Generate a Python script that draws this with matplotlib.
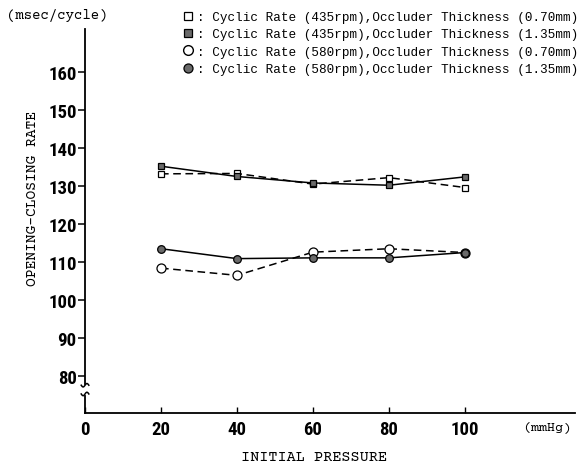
import matplotlib
matplotlib.use("Agg")
import matplotlib.pyplot as plt
import numpy as np
from matplotlib.lines import Line2D

# initial pressure (mmHg)
pressure = [20, 40, 60, 80, 100]

# opening-closing rate (msec/cycle)
rate_435_070 = [133.2, 133.3, 130.5, 132.2, 129.6]
rate_435_135 = [135.2, 132.5, 130.8, 130.2, 132.4]
rate_580_070 = [108.4, 106.5, 112.6, 113.5, 112.5]
rate_580_135 = [113.5, 110.9, 111.1, 111.1, 112.5]

labels = [
    ": Cyclic Rate (435rpm),Occluder Thickness (0.70mm)",
    ": Cyclic Rate (435rpm),Occluder Thickness (1.35mm)",
    ": Cyclic Rate (580rpm),Occluder Thickness (0.70mm)",
    ": Cyclic Rate (580rpm),Occluder Thickness (1.35mm)",
]

yticks = [80, 90, 100, 110, 120, 130, 140, 150, 160]
xticks = [0, 20, 40, 60, 80, 100]

narrow_bold = ["Roboto Condensed", "Archivo Narrow", "DejaVu Sans"]
legend_font = ["Liberation Mono", "DejaVu Sans Mono"]
mono = ["Courier Prime", "Liberation Mono", "DejaVu Sans Mono"]
gray = "#6a6a6a"

fig = plt.figure(figsize=(5.78, 4.64), dpi=100)
ax = fig.add_axes([0.1471, 0.1078, 0.8478, 0.8276])

dash = (0, (5, 3))
ax.plot(pressure, rate_435_070, ls=dash, color="k", lw=1.1, marker="s",
        ms=5, mfc="white", mec="k", mew=0.9)
ax.plot(pressure, rate_435_135, ls="-", color="k", lw=1.1, marker="s",
        ms=5, mfc=gray, mec="k", mew=0.9)
ax.plot(pressure, rate_580_070, ls=dash, color="k", lw=1.1, marker="o",
        ms=6.5, mfc="white", mec="k", mew=0.9)
ax.plot(pressure, rate_580_135, ls="-", color="k", lw=1.1, marker="o",
        ms=5.5, mfc=gray, mec="k", mew=0.9)

ax.set_xlim(0, 129)
ax.set_ylim(70.3, 171.3)

for s in ["top", "right", "left"]:
    ax.spines[s].set_visible(False)
ax.spines["bottom"].set_linewidth(1.3)

# y axis drawn by hand so it can carry the break mark
ytr = ax.get_yaxis_transform()
ax.plot([0, 0], [77.9, 171.3], color="k", lw=1.3, transform=ytr, clip_on=False)
ax.plot([0, 0], [70.3, 74.8], color="k", lw=1.3, transform=ytr, clip_on=False)
t = np.linspace(-1.0, 1.0, 30)
for y0 in (77.6, 75.3):
    ax.plot(t, y0 + 0.45 * np.sin(np.pi * t), color="k", lw=1.1, clip_on=False)

ax.set_yticks(yticks)
ax.set_xticks(xticks)
ax.tick_params(axis="y", direction="out", length=5, width=1.1, pad=1)
ax.tick_params(axis="x", direction="in", length=4, width=1.0, pad=5)
for lab in ax.get_yticklabels() + ax.get_xticklabels():
    lab.set_family(narrow_bold)
    lab.set_fontweight("bold")
    lab.set_fontsize(13.5)

fig.text(0.012, 0.967, "(msec/cycle)", family=mono, fontsize=10, va="center")
fig.text(0.056, 0.573, "OPENING-CLOSING RATE", family=mono, fontsize=10.5,
         rotation=90, ha="center", va="center")
fig.text(0.543, 0.013, "INITIAL PRESSURE", family=mono, fontsize=11,
         ha="center", va="center")
fig.text(0.905, 0.077, "(mmHg)", family=mono, fontsize=9.5, va="center")

handles = [
    Line2D([], [], ls="none", marker="s", ms=6, mfc="white", mec="k", mew=0.9),
    Line2D([], [], ls="none", marker="s", ms=6, mfc=gray, mec="k", mew=0.9),
    Line2D([], [], ls="none", marker="o", ms=7, mfc="white", mec="k", mew=1.0),
    Line2D([], [], ls="none", marker="o", ms=6.5, mfc=gray, mec="k", mew=0.9),
]
leg = fig.legend(handles, labels, loc="upper left", bbox_to_anchor=(0.302, 0.993),
                 frameon=False, handlelength=0.8, handletextpad=0.3,
                 labelspacing=0.42, borderpad=0.2,
                 prop={"family": legend_font, "size": 9.1})

fig.savefig("out.png", dpi=100)
